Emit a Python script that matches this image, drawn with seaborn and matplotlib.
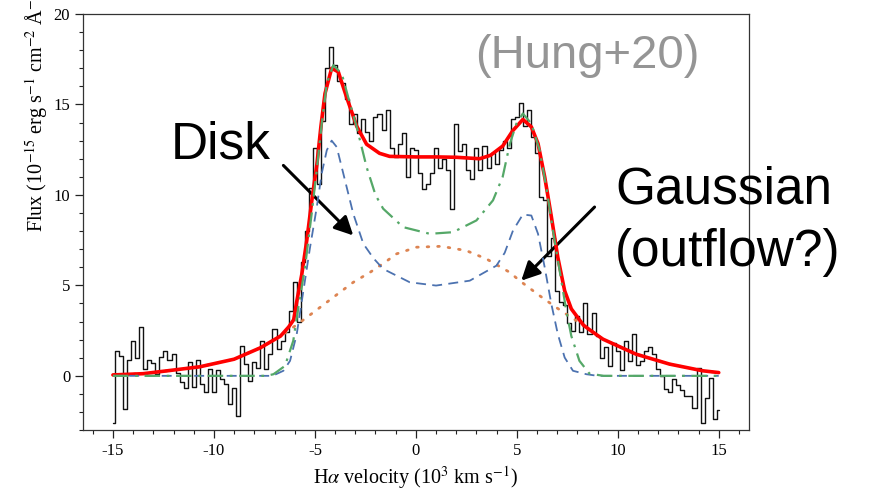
import numpy as np
import pandas as pd
import matplotlib
matplotlib.use("Agg")
import matplotlib.pyplot as plt
import seaborn as sns
from matplotlib.ticker import MultipleLocator

# ---------------- data ----------------
# observed spectrum, bin centres -15 ... 15 (step 0.2)
spec_v = [round(-15.0 + 0.2 * i, 1) for i in range(151)]
spec_flux = [
    -2.6, 1.4, 1.1, -1.85, 0.9, 1.9, 1.0, 2.7, 0.4, 0.9,
    0.7, 0.1, 1.05, 1.4, 0.85, 1.2, 0.15, -0.35, -0.65, 0.75,
    -0.6, 0.9, -0.45, -0.9, 0.4, -0.9, 0.35, -0.2, -0.45, -1.55,
    -0.65, -2.2, 1.65, 0.65, -0.3, 0.75, 0.45, 1.9, 0.4, 1.2,
    2.6, 1.5, 1.9, 2.4, 3.6, 5.2, 3.0, 6.3, 8.0, 10.4,
    12.6, 10.6, 14.1, 17.0, 18.2, 17.2, 16.3, 16.2, 15.3, 13.9,
    14.5, 13.4, 14.2, 13.5, 13.0, 14.3, 14.5, 13.6, 14.7, 12.6,
    12.1, 12.8, 13.4, 11.0, 12.6, 12.5, 11.2, 10.3, 10.6, 11.2,
    12.6, 11.5, 12.0, 11.4, 9.2, 13.9, 12.4, 12.8, 11.4, 10.9,
    12.6, 11.4, 12.7, 11.5, 12.3, 11.7, 12.5, 13.0, 12.6, 14.2,
    14.3, 15.1, 13.8, 14.7, 13.2, 12.3, 9.9, 9.7, 6.6, 7.6,
    4.7, 4.1, 3.9, 2.9, 2.5, 3.3, 2.4, 4.0, 2.3, 3.5,
    2.2, 1.0, 1.6, 0.55, 1.8, 1.4, 0.3, 1.9, 0.8, 2.3,
    0.6, 0.8, 1.4, 1.6, 1.2, 0.4, 0.0, -0.7, -0.9, -0.2,
    -0.5, -0.8, -1.1, -1.1, -1.75, 0.45, -2.6, -1.2, -0.1, -2.4,
    -1.9,
]

# total model (red)
total_v = [-15.0, -13.5, -12.3, -10.7, -9.0, -7.7, -6.7, -6.3, -6.05, -5.9,
           -5.65, -5.4, -5.15, -4.9, -4.7, -4.5, -4.17, -3.84, -3.43, -2.93,
           -2.44, -1.8, -1.3, 0.0, 1.0, 2.0, 3.16, 3.7, 4.3, 4.8,
           5.3, 5.72, 6.05, 6.38, 6.71, 7.03, 7.37, 7.7, 8.3, 8.6,
           9.26, 10.9, 12.56, 14.2, 15.0]
total_f = [0.05, 0.12, 0.28, 0.50, 0.92, 1.55, 2.2, 2.7, 3.1, 4.1,
           5.6, 7.5, 9.7, 11.7, 13.8, 15.6, 17.0, 16.8, 15.4, 13.8,
           12.8, 12.3, 12.13, 12.1, 12.1, 12.08, 12.0, 12.19, 12.7, 13.55,
           14.17, 13.76, 12.84, 11.0, 8.8, 6.55, 4.7, 3.7, 2.8, 2.55,
           2.03, 1.2, 0.65, 0.28, 0.18]

# disk component (blue dashed)
disk_v = [-15.0, -7.1, -6.56, -6.23, -5.9, -5.57, -5.24, -4.91, -4.66, -4.41,
          -4.17, -3.92, -3.59, -3.1, -2.6, -2.1, -1.62, -0.3, 1.0, 2.67,
          3.99, 4.4, 4.81, 5.3, 5.72, 6.05, 6.38, 6.71, 7.03, 7.37,
          7.78, 8.44, 9.0, 15.0]
disk_f = [0.0, 0.0, 0.28, 0.83, 2.3, 4.7, 7.1, 9.3, 11.2, 12.47,
          13.0, 12.65, 11.17, 8.96, 7.3, 6.5, 5.91, 5.17, 4.99, 5.26,
          6.09, 6.8, 8.03, 8.92, 8.86, 7.85, 6.0, 3.97, 2.31, 1.01,
          0.28, 0.09, 0.0, 0.0]

# alternative disk model (green dash-dot)
alt_v = [-15.0, -7.4, -7.05, -6.48, -6.07, -5.82, -5.49, -5.16, -4.91, -4.66,
         -4.41, -4.09, -3.67, -3.35, -2.93, -2.44, -2.0, -1.62, -0.63, 0.69,
         1.84, 3.0, 3.82, 4.3, 4.65, 4.98, 5.3, 5.72, 6.13, 6.46,
         6.79, 7.12, 7.45, 7.7, 8.1, 8.6, 9.3, 15.0]
alt_f = [0.0, 0.0, 0.09, 0.55, 1.94, 3.78, 6.0, 8.96, 11.36, 13.94,
         16.16, 17.17, 16.7, 15.4, 13.76, 11.54, 10.0, 9.24, 8.22, 7.85,
         7.94, 8.59, 9.7, 11.0, 12.8, 13.94, 14.5, 13.94, 12.47, 10.43,
         8.03, 5.82, 3.6, 2.2, 0.83, 0.12, 0.0, 0.0]

# gaussian (outflow?) component (orange dotted)
gauss_v = [-15.0, -13.5, -12.3, -10.7, -9.0, -7.7, -6.7, -6.3, -5.5, -4.75,
           -3.9, -3.1, -2.27, -1.5, -0.96, 0.03, 1.27, 2.5, 3.5, 4.65,
           5.14, 6.13, 6.95, 7.6, 8.3, 9.26, 10.9, 12.56, 14.2, 15.0]
gauss_f = [0.05, 0.12, 0.28, 0.5, 0.92, 1.55, 2.2, 2.5, 3.15, 3.78,
           4.5, 5.17, 5.72, 6.3, 6.74, 7.11, 7.16, 6.92, 6.46, 5.72,
           5.26, 4.43, 3.78, 3.3, 2.8, 2.03, 1.2, 0.65, 0.28, 0.18]

x_ticks = [-15, -10, -5, 0, 5, 10, 15]
x_tick_labels = ["-15", "-10", "-5", "0", "5", "10", "15"]
y_ticks = [0, 5, 10, 15, 20]
y_tick_labels = ["0", "5", "10", "15", "20"]

# ---------------- style ----------------
sns.set_style("ticks")
plt.rcParams["font.family"] = ["Liberation Serif", "DejaVu Serif"]
plt.rcParams["mathtext.fontset"] = "stix"
plt.rcParams["axes.unicode_minus"] = False
plt.rcParams["text.color"] = "black"
plt.rcParams["axes.labelcolor"] = "black"

blue, orange, green = "#4c72b0", "#dd8452", "#55a868"

fig = plt.figure(figsize=(8.73, 4.91), dpi=100)
ax = fig.add_axes([0.0947, 0.124, 0.7633, 0.8475])

spec = pd.DataFrame({"v": spec_v, "f": spec_flux})
sns.lineplot(data=spec, x="v", y="f", ax=ax, color="#111111", lw=1.0,
             drawstyle="steps-mid", estimator=None, sort=False, zorder=2)
sns.lineplot(x=gauss_v, y=gauss_f, ax=ax, color=orange, lw=2.0,
             linestyle=(0, (0.6, 3.2)), dash_capstyle="round",
             estimator=None, sort=False, zorder=3)
sns.lineplot(x=total_v, y=total_f, ax=ax, color="#ff0000", lw=2.6,
             estimator=None, sort=False, zorder=4)
sns.lineplot(x=disk_v, y=disk_f, ax=ax, color=blue, lw=1.3,
             linestyle=(0, (5.5, 3.5)), estimator=None, sort=False, zorder=5)
sns.lineplot(x=alt_v, y=alt_f, ax=ax, color=green, lw=1.6,
             linestyle=(0, (7, 3, 1.2, 3)), estimator=None, sort=False, zorder=6)

ax.set_xlim(-16.5, 16.5)
ax.set_ylim(-3, 20)
ax.set_xticks(x_ticks)
ax.set_xticklabels(x_tick_labels)
ax.set_yticks(y_ticks)
ax.set_yticklabels(y_tick_labels)
ax.xaxis.set_minor_locator(MultipleLocator(1))
ax.yaxis.set_minor_locator(MultipleLocator(1))
ax.tick_params(which="major", direction="out", length=5.5, width=0.9,
               labelsize=12, colors="#222222", labelcolor="black")
ax.tick_params(which="minor", direction="out", length=2.8, width=0.8,
               colors="#222222")
for s in ax.spines.values():
    s.set_visible(True)
    s.set_linewidth(0.9)
    s.set_color("#333333")

ax.set_xlabel(r"H$\alpha$ velocity (10$^3$ km s$^{-1}$)", fontsize=14.5)
ax.set_ylabel(r"Flux (10$^{-15}$ erg s$^{-1}$ cm$^{-2}$ Å$^{-1}$)", fontsize=14.5)
ax.yaxis.set_label_coords(-0.047, 0.775)

sans = ["Liberation Sans", "DejaVu Sans"]
ax.text(-12.16, 12.0, "Disk", fontsize=37, family=sans, va="baseline",
        ha="left", color="black")
ax.text(9.9, 9.55, "Gaussian", fontsize=37, family=sans, va="baseline",
        ha="left", color="black")
ax.text(9.84, 6.05, "(outflow?)", fontsize=37, family=sans, va="baseline",
        ha="left", color="black")
ax.text(14.04, 17.0, "(Hung+20)", fontsize=34, family=sans, va="baseline",
        ha="right", color="#959595")

arrow = dict(arrowstyle="-|>", lw=2.2, color="black", mutation_scale=28,
             shrinkA=0, shrinkB=0)
ax.annotate("", xy=(-3.1, 7.76), xytext=(-6.56, 11.63), arrowprops=arrow)
ax.annotate("", xy=(5.22, 5.26), xytext=(8.85, 9.33), arrowprops=arrow)

fig.savefig("out.png", dpi=100)
